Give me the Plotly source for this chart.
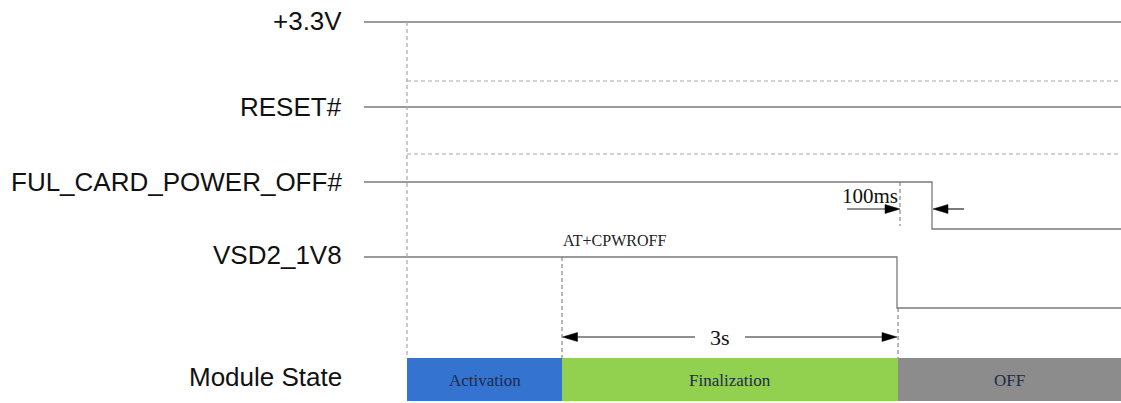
import plotly.graph_objects as go

W, H = 1121, 403

# ---- data (timeline positions on a pixel-like time axis) ----
signal_names = ["+3.3V", "RESET#", "FUL_CARD_POWER_OFF#", "VSD2_1V8"]
signal_high = [22, 107, 182, 257]
signal_low = [22, 107, 229, 308]
signal_fall = [None, None, 932, 897]
label_y = [21, 107, 182, 255]
line_start = 364
line_end = 1121

t_start = 407        # reference start
t_cmd = 562          # AT+CPWROFF issued
t_off = 898          # VSD2 off
t_100 = 900          # 100 ms marker
t_ful = 932          # FUL_CARD_POWER_OFF# falls

aux_dash_y = [81, 154]

state_names = ["Activation", "Finalization", "OFF"]
state_start = [407, 562, 898]
state_end = [562, 898, 1121]
state_colors = ["#3474D0", "#92D050", "#8C8C8C"]
state_top, state_bottom = 358, 401
state_label = "Module State"
state_label_y = 377

fig = go.Figure()

# signal waveforms
for name, hi, lo, fall in zip(signal_names, signal_high, signal_low, signal_fall):
    if fall is None:
        xs, ys = [line_start, line_end], [hi, hi]
    else:
        xs, ys = [line_start, fall, fall, line_end], [hi, hi, lo, lo]
    fig.add_trace(go.Scatter(x=xs, y=ys, mode="lines",
                             line=dict(color="#7a7a7a", width=1.3),
                             hoverinfo="skip", showlegend=False, name=name))

# module state bars
for nm, s, e, c in zip(state_names, state_start, state_end, state_colors):
    fig.add_trace(go.Bar(x=[e - s], base=[s], y=[(state_top + state_bottom) / 2],
                         width=[state_bottom - state_top], orientation="h",
                         marker=dict(color=c, line=dict(width=0)),
                         hoverinfo="skip", showlegend=False, name=nm))
    fig.add_annotation(x=(s + e) / 2, y=(state_top + state_bottom) / 2 + 1, text=nm,
                       showarrow=False, font=dict(family="Liberation Serif", size=17, color="#1e2a48"),
                       xanchor="center", yanchor="middle")

shapes = []
dash_light = dict(color="#a8a8a8", width=1.2, dash="4px,3px")
# vertical dashed at start
shapes.append(dict(type="line", x0=t_start, x1=t_start, y0=signal_high[0], y1=state_top, line=dash_light))
for y in aux_dash_y:
    shapes.append(dict(type="line", x0=t_start, x1=line_end, y0=y, y1=y, line=dash_light))
dash_dark = dict(color="#707070", width=1, dash="4px,3px")
shapes.append(dict(type="line", x0=t_cmd, x1=t_cmd, y0=signal_high[3], y1=state_top, line=dash_dark))
shapes.append(dict(type="line", x0=t_off, x1=t_off, y0=signal_low[3], y1=state_top, line=dash_dark))
shapes.append(dict(type="line", x0=t_100, x1=t_100, y0=signal_high[2], y1=signal_low[2] - 3, line=dash_dark))

# arrows
HEAD_LEN, HEAD_HALF = 15, 4.5
arrow_y_3s = 337
arrow_y_100 = 209
arrows = [
    # (tail, tip, y)
    (695, t_cmd + 0.5, arrow_y_3s),
    (745, t_off - 1, arrow_y_3s),
    (847, t_100, arrow_y_100),
    (964, t_ful + 1, arrow_y_100),
]
for tail, tip, y in arrows:
    d = 1 if tip > tail else -1
    shapes.append(dict(type="line", x0=tail, x1=tip - d * HEAD_LEN, y0=y, y1=y,
                       line=dict(color="#222", width=1.2)))
    base = tip - d * HEAD_LEN
    shapes.append(dict(type="path",
                       path=f"M {tip},{y} L {base},{y - HEAD_HALF} L {base},{y + HEAD_HALF} Z",
                       fillcolor="#000", line=dict(color="#000", width=0.5)))
fig.update_layout(shapes=shapes)

# labels
for name, y in zip(signal_names + [state_label], label_y + [state_label_y]):
    fig.add_annotation(x=344, y=y, text=name, showarrow=False, xanchor="right", yanchor="middle",
                       font=dict(family="Liberation Sans, Arial", size=26, color="#111"))

fig.add_annotation(x=t_cmd - 1, y=240, text="AT+CPWROFF", showarrow=False, xanchor="left", yanchor="middle",
                   font=dict(family="Liberation Serif", size=16, color="#222"))
fig.add_annotation(x=t_100, y=196, text="100ms", showarrow=False, xanchor="right", yanchor="middle",
                   font=dict(family="Liberation Serif", size=21, color="#111"))
fig.add_annotation(x=720, y=arrow_y_3s, text="3s", showarrow=False, xanchor="center", yanchor="middle",
                   font=dict(family="Liberation Serif", size=22, color="#111"))

fig.update_layout(
    width=W, height=H, margin=dict(l=0, r=0, t=0, b=0),
    paper_bgcolor="white", plot_bgcolor="white", barmode="overlay",
    xaxis=dict(range=[0, W], visible=False, fixedrange=True),
    yaxis=dict(range=[H, 0], visible=False, fixedrange=True),
)

fig.write_html("out.html", config={"displayModeBar": False})
